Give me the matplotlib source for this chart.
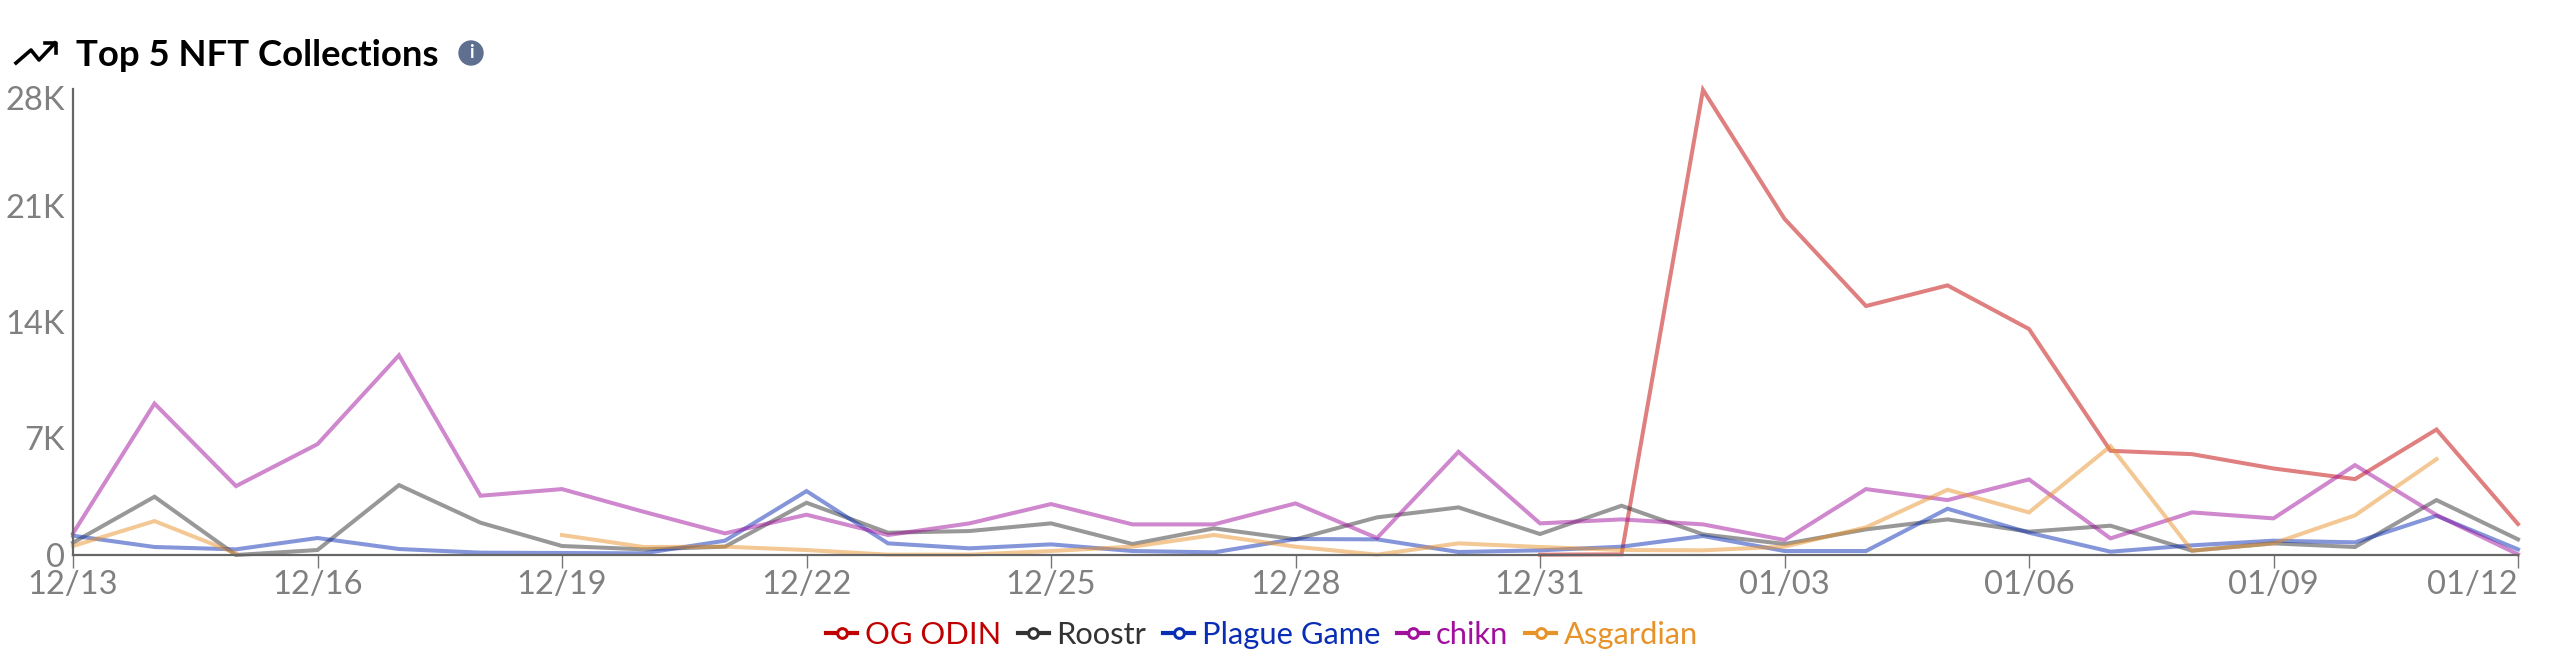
import matplotlib
matplotlib.use("Agg")
import matplotlib.pyplot as plt
from matplotlib.lines import Line2D
from matplotlib.patches import Circle
from matplotlib.transforms import ScaledTranslation

plt.rcParams['font.family'] = ['Lato', 'DejaVu Sans']

nan = float('nan')

dates = ['12/13', '12/14', '12/15', '12/16', '12/17', '12/18', '12/19', '12/20', '12/21', '12/22', '12/23',
         '12/24', '12/25', '12/26', '12/27', '12/28', '12/29', '12/30', '12/31', '01/01', '01/02', '01/03',
         '01/04', '01/05', '01/06', '01/07', '01/08', '01/09', '01/10', '01/11', '01/12']

og_odin = [nan, nan, nan, nan, nan, nan, nan, nan, nan, nan, nan, nan, nan, nan, nan, nan, nan, nan, 20, 40,
           27950, 20200, 14960, 16200, 13580, 6260, 6060, 5200, 4560, 7540, 1860]
roostr = [740, 3500, 0, 300, 4200, 1940, 540, 340, 500, 3140, 1340, 1440, 1900, 660, 1600, 940, 2260, 2860, 1260,
          2960, 1240, 660, 1540, 2140, 1400, 1760, 260, 700, 480, 3300, 940]
plague_game = [1160, 480, 340, 1020, 360, 140, 120, 100, 860, 3840, 700, 400, 640, 240, 160, 960, 940, 180, 280,
               500, 1140, 240, 240, 2780, 1340, 200, 580, 860, 760, 2360, 340]
chikn = [1300, 9100, 4140, 6660, 12000, 3560, 3960, 2600, 1300, 2420, 1200, 1900, 3060, 1840, 1840, 3100, 1020,
         6200, 1900, 2140, 1840, 900, 3960, 3300, 4540, 1000, 2560, 2200, 5400, 2400, 40]
asgardian = [540, 2040, 100, nan, nan, nan, 1200, 480, 500, 300, 20, 20, 240, 500, 1200, 500, 20, 700, 480, 300,
             280, 500, 1660, 3920, 2560, 6540, 260, 700, 2380, 5760, nan]

names = ['OG ODIN', 'Roostr', 'Plague Game', 'chikn', 'Asgardian']
series = [og_odin, roostr, plague_game, chikn, asgardian]
colors = ['#c00000', '#333333', '#0a2db5', '#a0109c', '#e8922a']

y_ticks = [0, 7000, 14000, 21000, 28000]
y_labels = ['0', '7K', '14K', '21K', '28K']

W, H = 2560, 659
fig = plt.figure(figsize=(W / 100, H / 100), dpi=100)
ax = fig.add_axes([73 / W, 1 - 555 / H, (2518 - 73) / W, (555 - 89) / H])

x = list(range(len(dates)))
handles = []
for name, vals, col in zip(names, series, colors):
    ax.plot(x, vals, color=col, linewidth=2.9, alpha=0.5, solid_joinstyle='miter', clip_on=False)
    handles.append(Line2D([0], [0], color=col, linewidth=3, marker='o', markersize=7, markerfacecolor='white',
                          markeredgewidth=2.2, label=name))

ax.set_xlim(0, 30)
ax.set_ylim(0, 28000)
for s in ['top', 'right']:
    ax.spines[s].set_visible(False)
for s in ['left', 'bottom']:
    ax.spines[s].set_color('#666666')
    ax.spines[s].set_linewidth(1.6)

ax.set_xticks(x[::3])
ax.set_xticklabels(dates[::3], fontsize=23.5, color='#808080')
ax.tick_params(axis='x', length=9, width=1, color='#777777', pad=2)
ax.get_xticklabels()[-1].set_ha('right')
ax.set_yticks(y_ticks)
ax.set_yticklabels(y_labels, fontsize=23.5, color='#808080')
ax.tick_params(axis='y', length=0, pad=6)
top_label = ax.get_yticklabels()[-1]
top_label.set_va('top')
top_label.set_transform(top_label.get_transform() + ScaledTranslation(0, 3 / 100, fig.dpi_scale_trans))

fig.text(76 / W, 1 - 56 / H, 'Top 5 NFT Collections', fontsize=26.3, fontweight='bold', color='black', va='center')

# trending-up icon and info dot
fig.add_artist(Line2D([16 / W, 31 / W, 39 / W, 55 / W], [1 - 63 / H, 1 - 50 / H, 1 - 60 / H, 1 - 43 / H],
                      color='black', linewidth=2.6))
fig.add_artist(Line2D([45 / W, 56 / W, 56 / W], [1 - 43 / H, 1 - 43 / H, 1 - 53 / H], color='black', linewidth=2.6))
fig.add_artist(Circle((471, H - 53), 12, transform=None, color='#5f6f8f'))
fig.text(471 / W, 1 - 53 / H, 'i', fontsize=13, fontweight='bold', color='white', ha='center', va='center')

leg = ax.legend(handles=handles, loc='center', bbox_to_anchor=(1262 / W, 1 - 635 / H), bbox_transform=fig.transFigure,
                ncol=5, frameon=False, fontsize=22.2, handlelength=1.0, handletextpad=0.25, columnspacing=0.55,
                labelcolor=colors)

fig.savefig('out.png', dpi=100)
